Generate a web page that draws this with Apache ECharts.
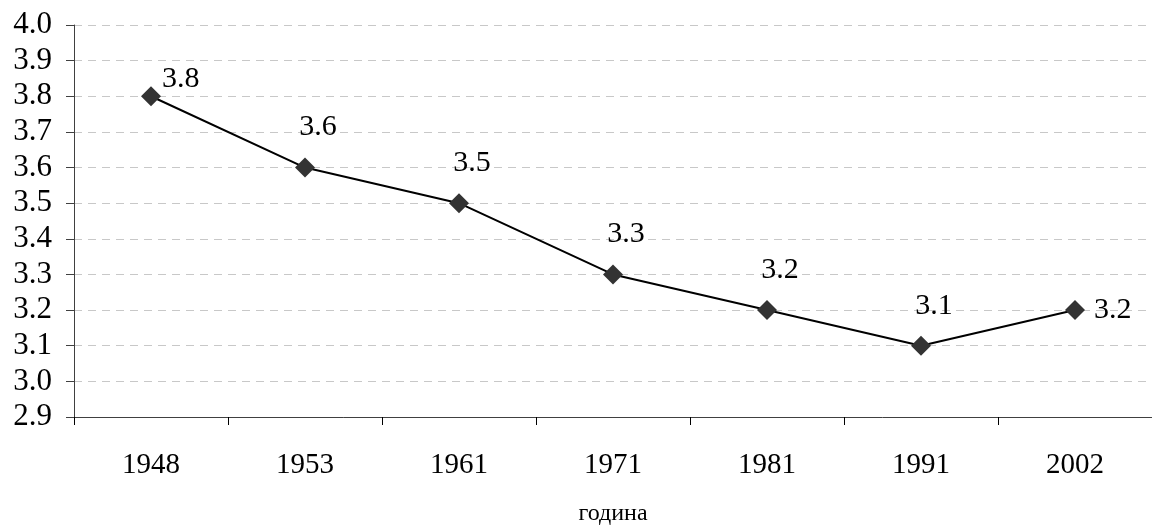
<!DOCTYPE html>
<html>
<head>
<meta charset="utf-8">
<script src="https://cdn.jsdelivr.net/npm/echarts@6/dist/echarts.min.js"></script>
<style>
  html, body { margin: 0; padding: 0; background: #fff; }
  #chart { width: 1152px; height: 532px; }
</style>
</head>
<body>
<div id="chart"></div>
<script>
// Census years and average household size
const years = ['1948', '1953', '1961', '1971', '1981', '1991', '2002'];
const values = [3.8, 3.6, 3.5, 3.3, 3.2, 3.1, 3.2];
const axisTitle = 'година';

const FONT = '"Liberation Serif", "Times New Roman", serif';
const lastIndex = values.length - 1;

// Per-point label placement: first to the upper right, last to the right, the rest above
const points = values.map((v, i) => {
  let label;
  if (i === 0) {
    label = { position: 'right', distance: 1, offset: [0, -17] };
  } else if (i === lastIndex) {
    label = { position: 'right', distance: 9 };
  } else {
    label = { position: 'top', distance: 15, offset: [13, 0] };
  }
  return { value: v, label };
});

const chart = echarts.init(document.getElementById('chart'), null, { renderer: 'canvas' });
chart.setOption({
  animation: false,
  backgroundColor: '#fff',
  grid: { left: 74, right: 0, top: 25, bottom: 115, containLabel: false, outerBoundsMode: 'none' },
  xAxis: {
    type: 'category',
    data: years,
    boundaryGap: true,
    name: axisTitle,
    nameLocation: 'middle',
    nameGap: 85,
    nameTextStyle: { fontFamily: FONT, fontSize: 24, color: '#000' },
    axisLine: { lineStyle: { color: '#404040', width: 1 } },
    axisTick: { show: true, length: 8, inside: false, alignWithLabel: false, lineStyle: { color: '#000' } },
    axisLabel: { fontFamily: FONT, fontSize: 29, color: '#000', margin: 34 },
    splitLine: { show: false }
  },
  yAxis: {
    type: 'value',
    min: 2.9,
    max: 4.0,
    interval: 0.1,
    axisLine: { show: true, lineStyle: { color: '#404040', width: 1 } },
    axisTick: { show: true, length: 8, lineStyle: { color: '#404040' } },
    axisLabel: {
      fontFamily: FONT, fontSize: 31, color: '#000', margin: 22,
      formatter: v => v.toFixed(1)
    },
    splitLine: { show: true, lineStyle: { color: '#c8c8c8', type: [8, 6], width: 1 } }
  },
  series: [{
    type: 'line',
    data: points,
    symbol: 'diamond',
    symbolSize: 20,
    itemStyle: { color: '#333' },
    lineStyle: { color: '#000', width: 2 },
    label: {
      show: true,
      fontFamily: FONT,
      fontSize: 30,
      color: '#000',
      formatter: p => p.value.toFixed(1)
    }
  }]
});
</script>
</body>
</html>
